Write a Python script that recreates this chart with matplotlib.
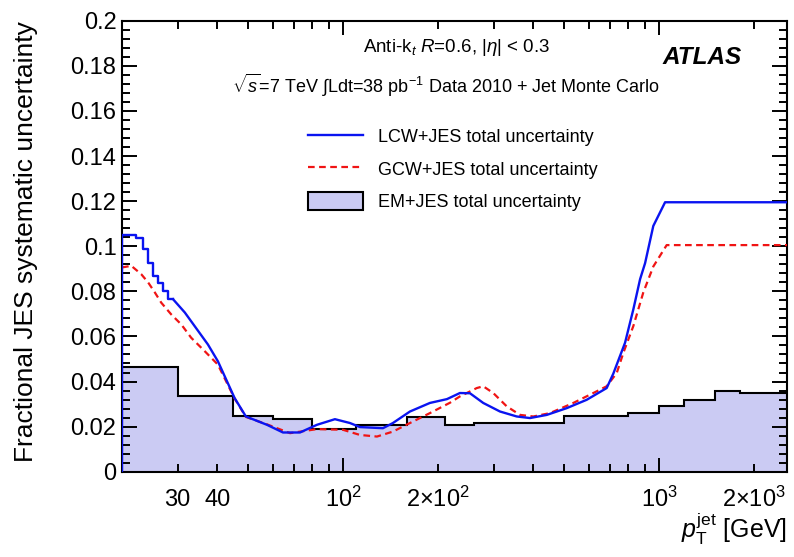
import numpy as np
import matplotlib.pyplot as plt
import matplotlib.patches as mpatches
from matplotlib.ticker import FixedLocator, FuncFormatter

plt.rcParams['font.family'] = ['Liberation Sans', 'DejaVu Sans']
plt.rcParams['mathtext.fontset'] = 'custom'
plt.rcParams['mathtext.rm'] = 'Liberation Sans'
plt.rcParams['mathtext.it'] = 'Liberation Sans:italic'
plt.rcParams['mathtext.bf'] = 'Liberation Sans:bold'

# EM+JES total uncertainty, binned in pT [GeV]
em_edges = [20, 30, 45, 60, 80, 110, 160, 210, 260, 500, 800, 1000, 1200, 1500, 1800, 2540]
em_unc = [0.0465, 0.0334, 0.0245, 0.0233, 0.019, 0.0208, 0.0242, 0.0207, 0.0216,
          0.0245, 0.026, 0.0293, 0.0316, 0.036, 0.0349]

# LCW+JES: fine bins at low pT, then smooth
lcw_low_edges = [20, 22.2, 23.3, 24.2, 25.1, 26.0, 26.9, 27.9, 29.0]
lcw_low = [0.105, 0.1036, 0.0988, 0.0924, 0.0869, 0.0839, 0.080, 0.0765]
lcw_pt = [29.0, 31.6, 37.4, 40.2, 45.4, 49.3, 57.5, 64.6, 73.1, 82.7, 94.3, 105.2,
          113.2, 133.8, 143.9, 162.9, 188.4, 213.3, 234.4, 252.2, 277.8, 313.9,
          354.6, 390.6, 441.4, 510.5, 590.4, 682.8, 716.6, 780.6, 829.2, 871.0,
          903.3, 959.0, 1044.9, 2540]
lcw_unc = [0.0765, 0.0706, 0.0564, 0.049, 0.0327, 0.0245, 0.0208, 0.0174, 0.0174,
           0.0208, 0.0233, 0.0216, 0.0198, 0.0193, 0.0216, 0.0267, 0.0305, 0.0322,
           0.0349, 0.0348, 0.0305, 0.0267, 0.0245, 0.0238, 0.0252, 0.0282, 0.0319,
           0.0371, 0.0435, 0.0572, 0.072, 0.0854, 0.0925, 0.109, 0.1195, 0.1195]

# GCW+JES
gcw_pt = [20.0, 21.4, 23.0, 24.2, 25.4, 26.6, 28.6, 30.8, 33.1, 36.5, 40.2, 45.4,
          49.3, 57.5, 68.0, 82.7, 100, 113.2, 128.1, 143.9, 162.9, 188.4, 218.1,
          234.4, 265.0, 277.8, 298.9, 329.6, 363.2, 400.1, 451.9, 535.5, 619.5,
          682.8, 734.8, 770.9, 829.2, 891.6, 959.0, 1057, 2540]
gcw_unc = [0.0906, 0.0913, 0.0876, 0.0839, 0.0795, 0.075, 0.0698, 0.0653, 0.0594,
           0.0535, 0.0475, 0.0325, 0.0243, 0.021, 0.0171, 0.0189, 0.0186, 0.0163,
           0.0156, 0.0178, 0.0216, 0.026, 0.0306, 0.0334, 0.0371, 0.0379, 0.0349,
           0.029, 0.0252, 0.0245, 0.026, 0.0305, 0.0349, 0.0379, 0.0438, 0.0527,
           0.0646, 0.0795, 0.091, 0.1005, 0.1005]

fill_col = '#cbcbf3'
blue = '#0a14f0'
red = '#f01414'

fig = plt.figure(figsize=(7.94, 5.57), dpi=100)
ax = fig.add_axes([0.1537, 0.1531, 0.8375, 0.8097])

ax.stairs(em_unc, em_edges, fill=True, color=fill_col, zorder=1)
ax.stairs(em_unc, em_edges, color='black', lw=1.5, baseline=None, zorder=2)

lx = np.r_[lcw_low_edges[0], lcw_low_edges]
ly = np.r_[0, lcw_low, lcw_low[-1]]
ax.plot(lx, ly, drawstyle='steps-post', color=blue, lw=1.7, zorder=4)
ax.plot(lcw_pt, lcw_unc, color=blue, lw=1.7, zorder=4)
ax.plot(gcw_pt, gcw_unc, color=red, lw=1.6, ls=(0, (3, 2)), zorder=3)

ax.set_xscale('log')
ax.set_xlim(20, 2540)
ax.set_ylim(0, 0.2)

# x ticks
major_lab = {100: '$10^{2}$', 1000: '$10^{3}$'}
minor_lab = {30: '30', 40: '40', 200: r'$2{\times}10^{2}$', 2000: r'$2{\times}10^{3}$'}
minor_pos = [30, 40, 50, 60, 70, 80, 90, 200, 300, 400, 500, 600, 700, 800, 900, 2000]
ax.xaxis.set_major_locator(FixedLocator([100, 1000]))
ax.xaxis.set_minor_locator(FixedLocator(minor_pos))
ax.xaxis.set_major_formatter(FuncFormatter(lambda v, p: major_lab.get(int(round(v)), '')))
ax.xaxis.set_minor_formatter(FuncFormatter(lambda v, p: minor_lab.get(int(round(v)), '')))

# y ticks
ax.yaxis.set_major_locator(FixedLocator(np.arange(0, 0.2001, 0.02)))
ax.yaxis.set_minor_locator(FixedLocator(np.arange(0, 0.2001, 0.004)))
ax.yaxis.set_major_formatter(FuncFormatter(lambda v, p: f'{v:.2f}'.rstrip('0').rstrip('.') if v > 0 else '0'))

ax.tick_params(which='both', direction='in', top=True, right=True, width=1.4, labelsize=17)
ax.tick_params(axis='x', which='major', length=10, pad=25)
ax.tick_params(axis='x', which='minor', length=5.5, pad=25)
ax.tick_params(axis='y', which='major', length=11, pad=4)
ax.tick_params(axis='y', which='minor', length=6)
for t in ax.xaxis.get_major_ticks() + ax.xaxis.get_minor_ticks():
    t.label1.set_verticalalignment('baseline')
for s in ax.spines.values():
    s.set_linewidth(1.5)

fig.text(26 / 794, 1 - 242 / 557, 'Fractional JES systematic uncertainty',
         rotation=90, ha='center', va='center', fontsize=19)
fig.text(787 / 794, 1 - 538 / 557, r'$p_{\mathrm{T}}^{\mathrm{jet}}$ [GeV]',
         ha='right', va='baseline', fontsize=18)

ax.text(457 / 794, 1 - 47 / 557, r'Anti-k$_{t}$ $R$=0.6, |$\eta$| < 0.3',
        transform=fig.transFigure, ha='center', va='center', fontsize=13.5)
ax.text(232 / 794, 1 - 85 / 557,
        r'$\sqrt{s}$=7 TeV $\int$Ldt=38 pb$^{-1}$ Data 2010 + Jet Monte Carlo',
        transform=fig.transFigure, ha='left', va='center', fontsize=13)
ax.text(662 / 794, 1 - 57 / 557, 'ATLAS', transform=fig.transFigure,
        ha='left', va='center', fontsize=17.5, fontweight='bold', fontstyle='italic')

handles = [
    plt.Line2D([], [], color=blue, lw=1.7),
    plt.Line2D([], [], color=red, lw=1.6, ls=(0, (3, 2))),
    mpatches.Patch(facecolor=fill_col, edgecolor='black', lw=1.5),
]
labels = ['LCW+JES total uncertainty', 'GCW+JES total uncertainty', 'EM+JES total uncertainty']
ax.legend(handles, labels, loc='upper left', bbox_to_anchor=(308 / 794, 1 - 127 / 557),
          bbox_transform=fig.transFigure, frameon=False, fontsize=13,
          handlelength=3.05, handleheight=1.16, handletextpad=0.83,
          labelspacing=0.74, borderpad=0, borderaxespad=0)

fig.savefig('out.png', dpi=100)
